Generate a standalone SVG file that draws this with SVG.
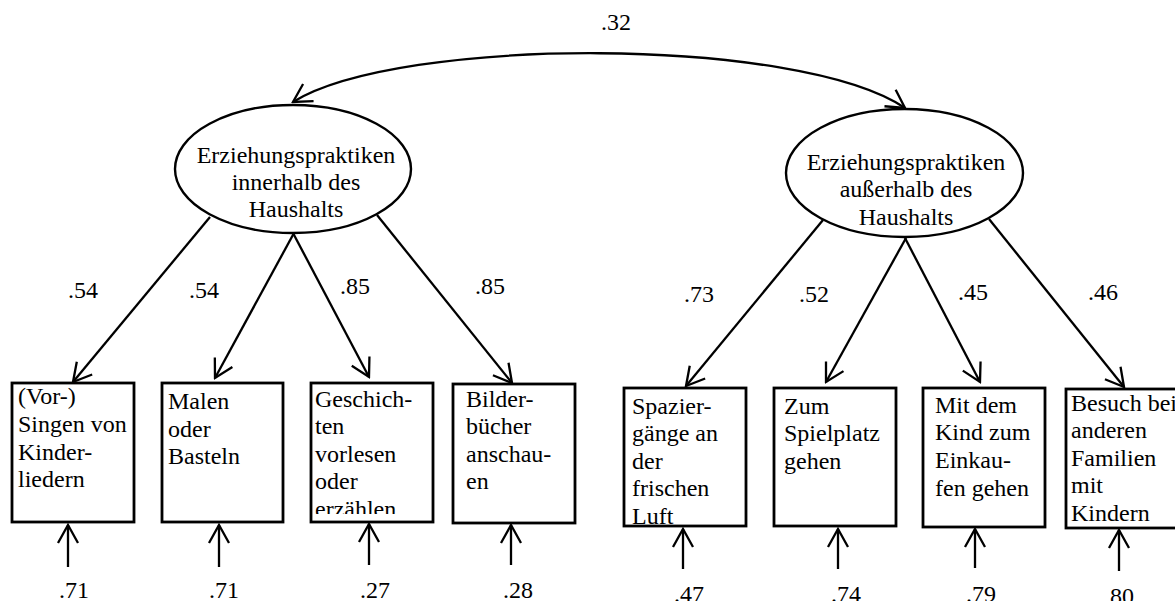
<svg xmlns="http://www.w3.org/2000/svg" width="1175" height="601" viewBox="0 0 1175 601">
<style>
text{font-family:"Liberation Serif","Times New Roman",serif;font-size:24px;fill:#000}
.c{text-anchor:middle}
.box{fill:#fff;stroke:#000;stroke-width:2.8}
.lat{fill:#fff;stroke:#000;stroke-width:2.4}
.ln{stroke:#000;stroke-width:2.3;fill:none;marker-end:url(#arr)}
</style>
<defs>
<marker id="arr" viewBox="-20 -12 22 24" refX="0" refY="0" markerWidth="22" markerHeight="24" markerUnits="userSpaceOnUse" orient="auto-start-reverse">
<path d="M-18,-10 L0,0 L-18,10" fill="none" stroke="#000" stroke-width="2.3"/>
</marker>
<clipPath id="clip3"><rect x="311" y="383" width="122" height="131"/></clipPath>
</defs>
<g id="connectors">
<path class="ln" d="M293,102 C400,36 798,36 905,108" marker-start="url(#arr)"/>
<line class="ln" x1="210" y1="217" x2="73" y2="382"/>
<line class="ln" x1="294" y1="233" x2="215" y2="378"/>
<line class="ln" x1="293" y1="233" x2="369" y2="377"/>
<line class="ln" x1="377" y1="215" x2="512" y2="383"/>
<line class="ln" x1="823" y1="220" x2="686" y2="386"/>
<line class="ln" x1="906" y1="238" x2="826" y2="382"/>
<line class="ln" x1="905" y1="238" x2="980" y2="382"/>
<line class="ln" x1="989" y1="219" x2="1124" y2="387"/>
<line class="ln" x1="68" y1="567" x2="68" y2="525"/>
<line class="ln" x1="219" y1="567" x2="219" y2="525"/>
<line class="ln" x1="369" y1="565" x2="369" y2="524"/>
<line class="ln" x1="511" y1="565" x2="511" y2="525"/>
<line class="ln" x1="683" y1="569" x2="683" y2="529"/>
<line class="ln" x1="838" y1="569" x2="838" y2="529"/>
<line class="ln" x1="975" y1="568" x2="975" y2="529"/>
<line class="ln" x1="1119" y1="571" x2="1119" y2="530"/>
</g>
<g id="labels">
<text class="c" x="616" y="30">.32</text>
<text class="c" x="83" y="298">.54</text>
<text class="c" x="204" y="298">.54</text>
<text class="c" x="355" y="294">.85</text>
<text class="c" x="490" y="294">.85</text>
<text class="c" x="699" y="302">.73</text>
<text class="c" x="814" y="302">.52</text>
<text class="c" x="973" y="300">.45</text>
<text class="c" x="1103" y="300">.46</text>
<text class="c" x="74" y="598">.71</text>
<text class="c" x="224" y="598">.71</text>
<text class="c" x="375" y="598">.27</text>
<text class="c" x="518" y="598">.28</text>
<text class="c" x="689" y="602">.47</text>
<text class="c" x="846" y="602">.74</text>
<text class="c" x="981" y="602">.79</text>
<text x="1110" y="604">80</text>
</g>
<g id="latent1">
<ellipse class="lat" cx="293" cy="169" rx="118" ry="64"/>
<text class="c" x="296" y="163">Erziehungspraktiken</text>
<text class="c" x="296" y="190">innerhalb des</text>
<text class="c" x="296" y="217">Haushalts</text>
</g>
<g id="latent2">
<ellipse class="lat" cx="904.5" cy="173" rx="118.5" ry="64"/>
<text class="c" x="906" y="170">Erziehungspraktiken</text>
<text class="c" x="906" y="197">außerhalb des</text>
<text class="c" x="906" y="225">Haushalts</text>
</g>
<g id="box1">
<rect class="box" x="12" y="383" width="122" height="139"/>
<text x="18" y="404">(Vor-)</text>
<text x="18" y="432">Singen von</text>
<text x="18" y="460">Kinder-</text>
<text x="18" y="487">liedern</text>
</g>
<g id="box2">
<rect class="box" x="162" y="383" width="121" height="139"/>
<text x="168" y="409">Malen</text>
<text x="168" y="437">oder</text>
<text x="168" y="464">Basteln</text>
</g>
<g id="box3">
<rect class="box" x="311" y="383" width="122" height="139"/>
<g clip-path="url(#clip3)">
<text x="315" y="407">Geschich-</text>
<text x="315" y="434">ten</text>
<text x="315" y="462">vorlesen</text>
<text x="315" y="489">oder</text>
<text x="315" y="517">erzählen</text>
</g>
</g>
<g id="box4">
<rect class="box" x="453" y="384" width="122" height="139"/>
<text x="466" y="407">Bilder-</text>
<text x="466" y="434">bücher</text>
<text x="466" y="462">anschau-</text>
<text x="466" y="489">en</text>
</g>
<g id="box5">
<rect class="box" x="624" y="388" width="122" height="138"/>
<text x="632" y="414">Spazier-</text>
<text x="632" y="441">gänge an</text>
<text x="632" y="469">der</text>
<text x="632" y="496">frischen</text>
<text x="632" y="524">Luft</text>
</g>
<g id="box6">
<rect class="box" x="774" y="388" width="122" height="138"/>
<text x="784" y="414">Zum</text>
<text x="784" y="441">Spielplatz</text>
<text x="784" y="469">gehen</text>
</g>
<g id="box7">
<rect class="box" x="923" y="388" width="122" height="139"/>
<text x="935" y="413">Mit dem</text>
<text x="935" y="440">Kind zum</text>
<text x="935" y="468">Einkau-</text>
<text x="935" y="496">fen gehen</text>
</g>
<g id="box8">
<rect class="box" x="1066" y="389" width="122" height="139"/>
<text x="1071" y="411">Besuch bei</text>
<text x="1071" y="438">anderen</text>
<text x="1071" y="466">Familien</text>
<text x="1071" y="493">mit</text>
<text x="1071" y="521">Kindern</text>
</g>
</svg>
